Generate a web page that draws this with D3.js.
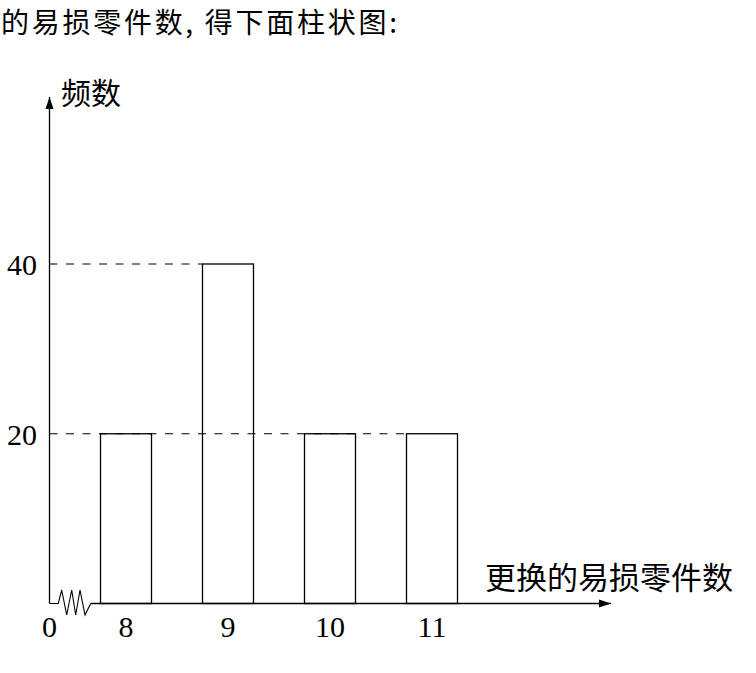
<!DOCTYPE html>
<html>
<head>
<meta charset="utf-8">
<script src="https://cdn.jsdelivr.net/npm/d3@7"></script>
<style>
  body { margin: 0; background: #fff; }
  .cjk { font-family: "Noto Sans CJK SC", sans-serif; fill: #000; }
  .num { font-family: "Liberation Serif", serif; fill: #000; }
</style>
</head>
<body>
<div id="chart"></div>
<script>
// data
const partCounts = [8, 9, 10, 11];       // 更换的易损零件数
const frequencies = [20, 40, 20, 20];    // 频数
const yTicks = [20, 40];
const captionText = "的易损零件数, 得下面柱状图:";
const yTitle = "频数";
const xTitle = "更换的易损零件数";

const width = 756, height = 673;

const svg = d3.select("#chart")
  .append("svg")
  .attr("width", width)
  .attr("height", height);

// origin of the axes
const ox = 49.5, oy = 603.5;

// x is broken between 0 and 8 (zigzag), so scale covers only 8..11
const x = d3.scaleLinear()
  .domain([8, 11])
  .range([126, 432]);

const y = d3.scaleLinear()
  .domain([0, 40])
  .range([oy, 264]);

const barW = (x(9) - x(8)) / 2;

// caption line on top
svg.append("text")
  .attr("class", "cjk")
  .attr("x", 1)
  .attr("y", 32.5)
  .attr("font-size", 28)
  .attr("textLength", 396)
  .attr("lengthAdjust", "spacing")
  .text(captionText);

// dashed guide lines, running to the left side of the last bar of that height
yTicks.forEach(t => {
  let lastIdx = -1;
  frequencies.forEach((f, i) => { if (f === t) lastIdx = i; });
  const xEnd = x(partCounts[lastIdx]) - barW / 2;
  svg.append("line")
    .attr("x1", ox)
    .attr("x2", xEnd)
    .attr("y1", y(t))
    .attr("y2", y(t))
    .attr("stroke", "#000")
    .attr("stroke-width", 1.2)
    .attr("stroke-dasharray", "8,8.5");
});

// bars
svg.append("g")
  .selectAll("rect")
  .data(partCounts)
  .join("rect")
  .attr("x", (d) => x(d) - barW / 2)
  .attr("y", (d, i) => y(frequencies[i]))
  .attr("width", barW)
  .attr("height", (d, i) => y(0) - y(frequencies[i]))
  .attr("fill", "none")
  .attr("stroke", "#000")
  .attr("stroke-width", 1.3);

// arrow heads
const defs = svg.append("defs");
defs.append("marker")
  .attr("id", "arrow")
  .attr("viewBox", "0 0 12 10")
  .attr("refX", 12)
  .attr("refY", 5)
  .attr("markerWidth", 12)
  .attr("markerHeight", 10)
  .attr("markerUnits", "userSpaceOnUse")
  .attr("orient", "auto")
  .append("path")
  .attr("d", "M0,1 L12,5 L0,9 Z")
  .attr("fill", "#000");

// y axis
svg.append("line")
  .attr("x1", ox).attr("y1", oy)
  .attr("x2", ox).attr("y2", 97)
  .attr("stroke", "#000")
  .attr("stroke-width", 1.3)
  .attr("marker-end", "url(#arrow)");

// x axis with the break zigzag near the origin
const zig = [[0, 0], [8.8, 0], [12.2, -13.5], [17.2, 11.5], [22.2, -13.5], [26.2, 11.5], [30.5, -13.5], [35.5, 11.5], [41.2, 0]];
const xLine = d3.line();
svg.append("path")
  .attr("d", xLine(zig.map(p => [ox + p[0], oy + p[1]])))
  .attr("fill", "none")
  .attr("stroke", "#000")
  .attr("stroke-width", 1.1)
  .attr("stroke-linejoin", "miter");

svg.append("line")
  .attr("x1", ox + 41.2).attr("y1", oy)
  .attr("x2", 611).attr("y2", oy)
  .attr("stroke", "#000")
  .attr("stroke-width", 1.3)
  .attr("marker-end", "url(#arrow)");

// y tick labels
svg.append("g")
  .selectAll("text")
  .data(yTicks)
  .join("text")
  .attr("class", "num")
  .attr("x", 37)
  .attr("y", d => y(d) + 11)
  .attr("text-anchor", "end")
  .attr("font-size", 30)
  .text(d => d);

// x tick labels, plus the 0 at origin
svg.append("text")
  .attr("class", "num")
  .attr("x", ox)
  .attr("y", 637)
  .attr("text-anchor", "middle")
  .attr("font-size", 30)
  .text("0");

svg.append("g")
  .selectAll("text")
  .data(partCounts)
  .join("text")
  .attr("class", "num")
  .attr("x", d => x(d))
  .attr("y", 637)
  .attr("text-anchor", "middle")
  .attr("font-size", 30)
  .text(d => d);

// axis titles
svg.append("text")
  .attr("class", "cjk")
  .attr("x", 61)
  .attr("y", 104)
  .attr("font-size", 30)
  .text(yTitle);

svg.append("text")
  .attr("class", "cjk")
  .attr("x", 485)
  .attr("y", 589)
  .attr("font-size", 31)
  .text(xTitle);
</script>
</body>
</html>
